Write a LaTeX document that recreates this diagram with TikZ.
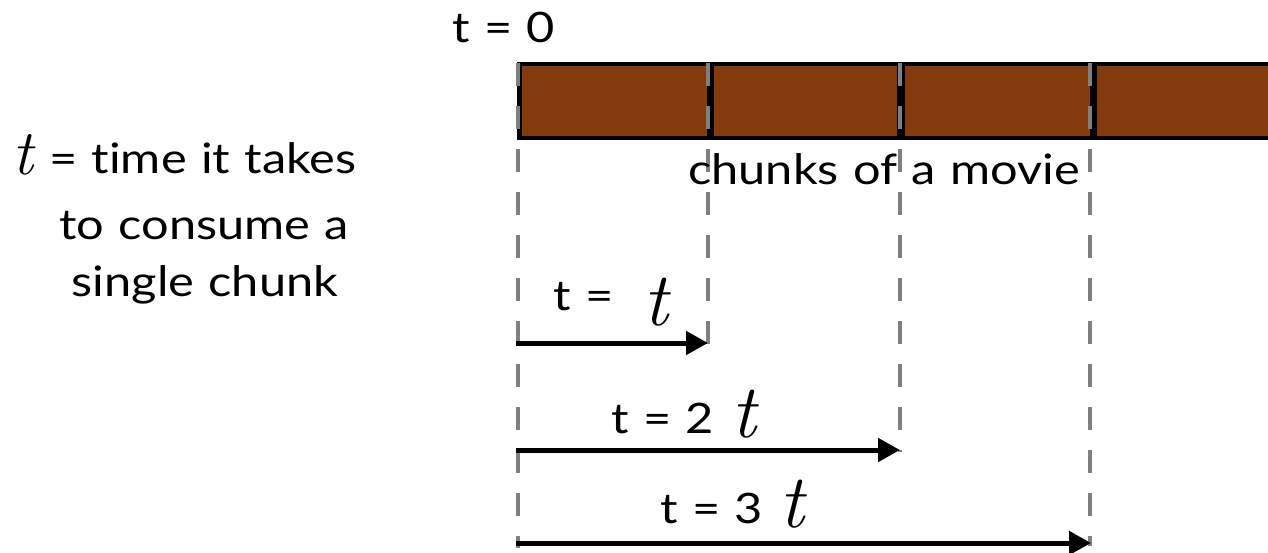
\documentclass[tikz,border=0pt]{standalone}
\usepackage{fontspec}
\setmainfont{Lato}[Ligatures=NoCommon, WordSpace=1.15, FakeStretch=1.16]
\newfontfamily\taufam{Latin Modern Roman}
\usetikzlibrary{arrows.meta}
\definecolor{chunkbrown}{RGB}{132,59,13}
\definecolor{dashgray}{RGB}{128,128,128}
\tikzset{
  chunkbox/.style={draw=black, line width=4.5pt, fill=chunkbrown, minimum height=74pt, inner sep=0pt},
  guide/.style={draw=dashgray, line width=4pt, dash pattern=on 23pt off 20pt},
  timearrow/.style={draw=black, line width=5pt, -{Triangle[length=22pt,width=23pt]}},
  lbl/.style={font=\fontsize{42}{42}\selectfont, inner sep=0pt, anchor=base west},
  taulbl/.style={font=\taufam\itshape\fontsize{76}{76}\selectfont, inner sep=0pt, anchor=base west},
  bigtau/.style={font=\taufam\itshape\fontsize{64}{64}\selectfont, inner sep=0pt, anchor=base west}
}
\begin{document}
\begin{tikzpicture}[x=1pt,y=-1pt]
\useasboundingbox (0,0) rectangle (1268,553);
\clip (0,0) rectangle (1268,553);
% chunks
\node[chunkbox, minimum width=190pt, anchor=north west] (c1) at (517,62) {};
\node[chunkbox, minimum width=188pt, anchor=north west] (c2) at (709,62) {};
\node[chunkbox, minimum width=190pt, anchor=north west] (c3) at (900,62) {};
\node[chunkbox, minimum width=200pt, anchor=north west] (c4) at (1092,62) {};
% guide coordinates
\coordinate (g1t) at (518,63); \coordinate (g1b) at (518,548);
\coordinate (g2t) at (708,63); \coordinate (g2b) at (708,346);
\coordinate (g3t) at (900,63); \coordinate (g3b) at (900,452);
\coordinate (g4t) at (1090,63); \coordinate (g4b) at (1090,546);
\draw[guide] (g1t) -- (g1b);
\draw[guide] (g2t) -- (g2b);
\draw[guide] (g3t) -- (g3b);
\draw[guide] (g4t) -- (g4b);
% arrows
\coordinate (a1s) at (516,343); \coordinate (a1e) at (708,343);
\coordinate (a2s) at (516,450); \coordinate (a2e) at (900,450);
\coordinate (a3s) at (516,543); \coordinate (a3e) at (1091,543);
\draw[timearrow] (a1s) -- (a1e);
\draw[timearrow] (a2s) -- (a2e);
\draw[timearrow] (a3s) -- (a3e);
% labels
\node[lbl] (t0) at (452,43) {t = 0};
\node[lbl] (chunks) at (688,185) {chunks of a movie};
\node[lbl] (l1) at (553,310) {t =};
\node[taulbl] (tau1) at (643,325) {t};
\node[lbl] (l2) at (611,433) {t = 2};
\node[taulbl] (tau2) at (731,437) {t};
\node[lbl] (l3) at (660,523) {t = 3};
\node[taulbl] (tau3) at (779,527) {t};
% definition
\node[bigtau] (tau0) at (12,175) {t};
\node[lbl, anchor=base west] (def1) at (49,174) {= time it takes};
\node[lbl, anchor=base] (def2) at (204,240) {to consume a};
\node[lbl, anchor=base] (def3) at (205,296) {single chunk};
\end{tikzpicture}
\end{document}
